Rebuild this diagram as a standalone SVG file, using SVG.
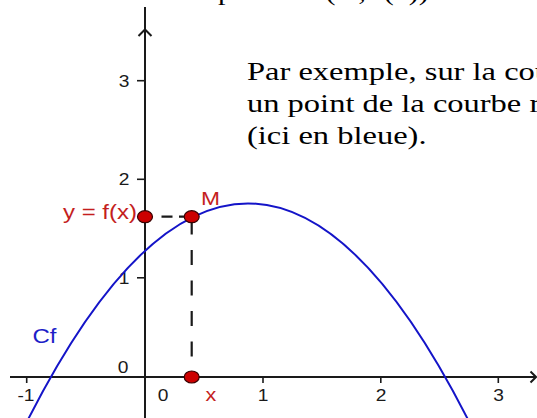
<svg xmlns="http://www.w3.org/2000/svg" width="537" height="418" viewBox="0 0 537 418">
<style>
.axis{stroke:#1a1a1a;stroke-width:2;fill:none}
.tick{stroke:#1a1a1a;stroke-width:1.6}
.lbl{font-family:"Liberation Sans",Arial,sans-serif;font-size:16px;fill:#1a1a1a;text-anchor:middle}
.red{font-family:"Liberation Sans",Arial,sans-serif;fill:#c41e1e}
.txt{font-family:"Liberation Serif","Times New Roman",serif;font-size:26px;fill:#000}
.pt{fill:#cc0000;stroke:#3a0000;stroke-width:1.2}
.dash{stroke:#1a1a1a;stroke-width:2.2;fill:none}
.curve{stroke:#1414c8;stroke-width:2;fill:none}
</style>
<rect width="537" height="418" fill="#fff"/>
<g id="text">
<text class="txt" transform="translate(218,-0.5) scale(1.2 1)" style="font-size:25px">points M(x ; f(x))</text>
<text class="txt" transform="translate(247,80) scale(1.25 1)">Par exemple, sur la cou</text>
<text class="txt" transform="translate(247,112) scale(1.25 1)">un point de la courbe r</text>
<text class="txt" transform="translate(247,144) scale(1.25 1)">(ici en bleue).</text>
</g>
<g id="axes">
<line class="axis" x1="10" y1="377" x2="536" y2="377"/>
<polyline class="axis" points="530.5,371.5 536,377 530.5,382.5"/>
<line class="axis" x1="145" y1="7" x2="145" y2="418"/>
<polyline class="axis" points="138.5,36 145,29.5 151.5,36"/>
<g class="tick">
<line x1="26.7" y1="377" x2="26.7" y2="383"/>
<line x1="263" y1="377" x2="263" y2="383"/>
<line x1="380.8" y1="377" x2="380.8" y2="383"/>
<line x1="498.3" y1="377" x2="498.3" y2="383"/>
<line x1="137" y1="80.7" x2="145" y2="80.7"/>
<line x1="137" y1="179.3" x2="145" y2="179.3"/>
<line x1="137" y1="277.8" x2="145" y2="277.8"/>
<line x1="137" y1="377" x2="145" y2="377"/>
</g>
<text class="lbl" transform="translate(124,86.5) scale(1.2 1)">3</text>
<text class="lbl" transform="translate(124,185) scale(1.2 1)">2</text>
<text class="lbl" transform="translate(124,283.5) scale(1.2 1)">1</text>
<text class="lbl" transform="translate(123,373) scale(1.2 1)">0</text>
<text class="lbl" transform="translate(26,401) scale(1.2 1)">-1</text>
<text class="lbl" transform="translate(163,401) scale(1.2 1)">0</text>
<text class="lbl" transform="translate(263,401) scale(1.2 1)">1</text>
<text class="lbl" transform="translate(381,401) scale(1.2 1)">2</text>
<text class="lbl" transform="translate(498.5,401) scale(1.2 1)">3</text>
</g>
<g id="curve">
<path class="curve" d="M15.5,444.8 Q248,-38 480.5,444.8"/>
<text transform="translate(32.5,343) scale(1.2 1)" style="font-family:'Liberation Sans',Arial,sans-serif;font-size:20px;fill:#1e1ec8">Cf</text>
</g>
<g id="connectors">
<line class="dash" x1="161.5" y1="216.7" x2="186" y2="216.7" stroke-dasharray="11 6.5"/>
<line class="dash" x1="191.7" y1="219.5" x2="191.7" y2="377" stroke-dasharray="15 15.5"/>
</g>
<g id="point-y">
<ellipse class="pt" cx="145" cy="216.7" rx="7.5" ry="6"/>
<text class="red" transform="translate(137,219) scale(1.2 1)" style="font-size:20px;text-anchor:end">y = f(x)</text>
</g>
<g id="point-M">
<ellipse class="pt" cx="191.7" cy="216.7" rx="7.5" ry="6"/>
<text class="red" transform="translate(201,205) scale(1.2 1)" style="font-size:19px">M</text>
</g>
<g id="point-x">
<ellipse class="pt" cx="191.7" cy="377" rx="7.5" ry="6"/>
<text class="red" transform="translate(211,401) scale(1.2 1)" style="font-size:18px;text-anchor:middle">x</text>
</g>
</svg>
